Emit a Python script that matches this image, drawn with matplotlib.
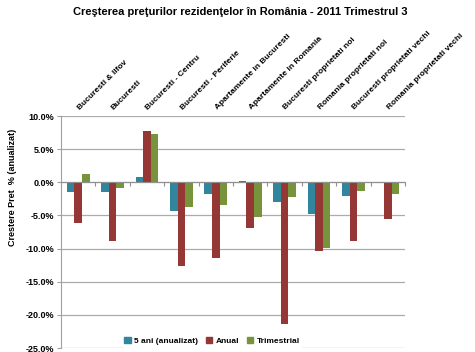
import matplotlib
matplotlib.use("Agg")
import matplotlib.pyplot as plt
import numpy as np
from matplotlib.patches import Patch

categories = ["Bucuresti & Ilfov", "Bucuresti", "Bucuresti - Centru", "Bucuresti - Periferie",
              "Apartamente in Bucuresti", "Apartamente in Romania", "Bucuresti proprietati noi",
              "Romania proprietati noi", "Bucuresti proprietati vechi", "Romania proprietati vechi"]
five_years = [-1.5, -1.5, 0.8, -4.4, -1.7, 0.2, -2.9, -4.8, -2.0, 0.1]
annual = [-6.2, -8.9, 7.8, -12.6, -11.4, -6.9, -21.4, -10.3, -8.8, -5.5]
quarterly = [1.3, -0.9, 7.3, -3.7, -3.5, -5.2, -2.2, -9.9, -1.3, -1.7]
series_names = ["5 ani (anualizat)", "Anual", "Trimestrial"]
colors = ["#31859C", "#953735", "#77933C"]
yticks = [10, 5, 0, -5, -10, -15, -20, -25]

plt.rcParams['font.family'] = ['Liberation Sans', 'DejaVu Sans']

fig = plt.figure(figsize=(4.75, 3.52), dpi=100)
ax = fig.add_axes([61/475, 1-348/352, (405-61)/475, (348-116)/352])

n = len(categories)
x = np.arange(n)
w = 0.22
for k, (vals, c) in enumerate(zip([five_years, annual, quarterly], colors)):
    ax.bar(x + (k - 1) * w, vals, w, color=c, zorder=3)

ax.set_xlim(-0.5, n - 0.5)
ax.set_ylim(-25, 10)
ax.set_yticks(yticks)
ax.set_yticklabels([f"{v:.1f}%" for v in yticks], fontsize=6.5, fontweight='bold')
ax.yaxis.grid(True, color='#ABABAB', linewidth=0.9, zorder=0)
ax.set_axisbelow(True)

for s in ['top', 'right']:
    ax.spines[s].set_visible(False)
ax.spines['left'].set_color('#A0A0A0')
ax.spines['bottom'].set_position(('data', 0))
ax.spines['bottom'].set_color('#909090')
ax.spines['bottom'].set_zorder(4)
ax.set_xticks(np.arange(n + 1) - 0.5)
ax.set_xticklabels([])
ax.tick_params(axis='x', direction='out', length=3, color='#909090')
ax.tick_params(axis='y', direction='out', length=3, color='#A0A0A0', pad=2)

for i, lab in enumerate(categories):
    ax.text(i + 0.08, 10.7, lab, rotation=45, ha='left', va='bottom',
            rotation_mode='anchor', fontsize=6, fontweight='bold')

ax.set_ylabel("Crestere Pret  % (anualizat)", fontsize=6.5, fontweight='bold')
ax.yaxis.set_label_coords(-0.128, 0.694)

fig.text(0.505, 0.965, "Creşterea preţurilor rezidenţelor în România - 2011 Trimestrul 3",
         ha='center', va='center', fontsize=8, fontweight='bold')

handles = [Patch(color=c) for c in colors]
leg = ax.legend(handles, series_names, loc='center', bbox_to_anchor=(212/475, 1-341/352),
                bbox_transform=fig.transFigure, ncol=3, frameon=True,
                handlelength=0.8, handleheight=0.8, handletextpad=0.4, columnspacing=0.9,
                borderpad=0.2, prop={'weight': 'bold', 'size': 6})
leg.get_frame().set_edgecolor('white')
leg.get_frame().set_facecolor('white')
leg.get_frame().set_alpha(1)

fig.savefig("out.png", dpi=100)
